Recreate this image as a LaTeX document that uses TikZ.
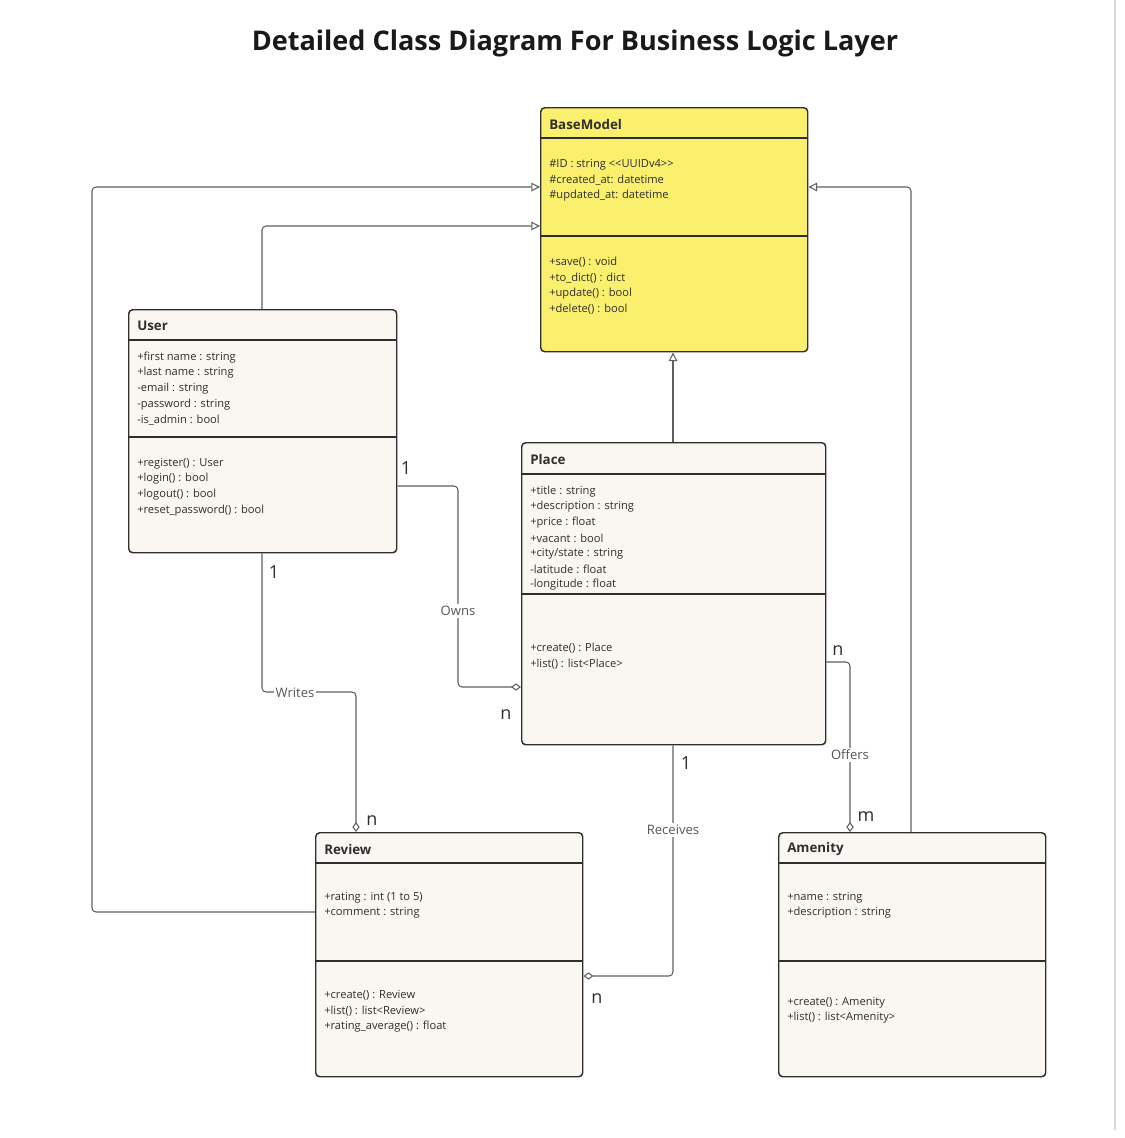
\documentclass[tikz,border=0pt]{standalone}
\usepackage{fontspec}
\setmainfont{Open Sans}[Ligatures=TeXOff]
\usetikzlibrary{arrows.meta,calc}
\definecolor{bmyellow}{HTML}{FAF06E}
\definecolor{boxfill}{HTML}{FAF7F2}
\definecolor{boxline}{HTML}{2E2E2E}
\definecolor{conn}{HTML}{606060}
\definecolor{txt}{HTML}{2E2E2E}
\newcommand\umlrows[4]{%
  \foreach \t [count=\i from 0] in {#4}
    \node[attr] (#1-#2\i) at ($(#1.north west)+(9,{#3+1.5+\i*15.55})$) {\t};%
}
\begin{document}
\begin{tikzpicture}[x=0.75pt,y=-0.75pt,
  classbox/.style={draw=boxline, line width=1.1pt, rounded corners=3pt, fill=boxfill, anchor=north west, inner sep=0pt},
  divider/.style={draw=boxline, line width=1.1pt},
  attr/.style={anchor=west, inner sep=0pt, font=\fontsize{8.35}{10}\selectfont, text=txt},
  head/.style={anchor=west, inner sep=0pt, font=\fontsize{10}{12}\selectfont\bfseries, text=txt},
  conn/.style={draw=conn, line width=0.8pt, rounded corners=3pt},
  inh/.style={conn, -{Triangle[open, fill=white, length=6.5pt, width=6.5pt]}},
  agg/.style={conn, -{Diamond[open, fill=white, length=7.5pt, width=5.5pt]}},
  lbl/.style={fill=white, inner sep=1.5pt, font=\fontsize{9.8}{12}\selectfont, text=conn!90!black},
  mult/.style={inner sep=0pt, font=\fontsize{13.5}{16}\selectfont, text=txt}]
\useasboundingbox (0,0) rectangle (1124,1138);
\draw[draw=black!15, line width=1.1pt] (1115,0) -- (1115,1130);

\node[font=\fontsize{20.3}{24}\selectfont\bfseries, text=black!90] (title) at (575,43) {Detailed Class Diagram For Business Logic Layer};

% BaseModel
\node[classbox, fill=bmyellow, minimum width=200.25pt, minimum height=183pt] (base) at (540,107) {};
\draw[divider] ($(base.north west)+(0,31)$) -- ($(base.north east)+(0,31)$);
\draw[divider] ($(base.north west)+(0,129)$) -- ($(base.north east)+(0,129)$);
\node[head] (base-h) at ($(base.north west)+(9,17)$) {BaseModel};
\umlrows{base}{a}{56}{{\#ID : string <\kern0pt<UUIDv4>\kern0pt>},{\#created\_at: datetime},{\#updated\_at: datetime}}
\umlrows{base}{m}{154}{{+save() : void},{+to\_dict() : dict},{+update() : bool},{+delete() : bool}}

% User
\node[classbox, minimum width=201pt, minimum height=182.25pt] (user) at (128,309) {};
\draw[divider] ($(user.north west)+(0,31)$) -- ($(user.north east)+(0,31)$);
\draw[divider] ($(user.north west)+(0,128)$) -- ($(user.north east)+(0,128)$);
\node[head] (user-h) at ($(user.north west)+(9,16.5)$) {User};
\umlrows{user}{a}{47}{{+first name : string},{+last name : string},{-email : string},{-password : string},{-is\_admin : bool}}
\umlrows{user}{m}{153}{{+register() : User},{+login() : bool},{+logout() : bool},{+reset\_password() : bool}}

% Place
\node[classbox, minimum width=228pt, minimum height=226.5pt] (place) at (521,442) {};
\draw[divider] ($(place.north west)+(0,32)$) -- ($(place.north east)+(0,32)$);
\draw[divider] ($(place.north west)+(0,152)$) -- ($(place.north east)+(0,152)$);
\node[head] (place-h) at ($(place.north west)+(9,17)$) {Place};
\umlrows{place}{a}{48}{{+title : string},{+description : string},{+price : float},{+vacant : bool},{+city/state : string},{-latitude : float},{-longitude : float}}
\umlrows{place}{m}{205}{{+create() : Place},{+list() : list<Place>}}

% Review
\node[classbox, minimum width=200.25pt, minimum height=183pt] (review) at (315,832) {};
\draw[divider] ($(review.north west)+(0,31)$) -- ($(review.north east)+(0,31)$);
\draw[divider] ($(review.north west)+(0,129)$) -- ($(review.north east)+(0,129)$);
\node[head] (review-h) at ($(review.north west)+(9,17.5)$) {Review};
\umlrows{review}{a}{64}{{+rating : int (1 to 5)},{+comment : string}}
\umlrows{review}{m}{162}{{+create() : Review},{+list() : list<Review>},{+rating\_average() : float}}

% Amenity
\node[classbox, minimum width=200.25pt, minimum height=183pt] (amenity) at (778,832) {};
\draw[divider] ($(amenity.north west)+(0,31)$) -- ($(amenity.north east)+(0,31)$);
\draw[divider] ($(amenity.north west)+(0,129)$) -- ($(amenity.north east)+(0,129)$);
\node[head] (amenity-h) at ($(amenity.north west)+(9,17.5)$) {Amenity};
\umlrows{amenity}{a}{64}{{+name : string},{+description : string}}
\umlrows{amenity}{m}{169}{{+create() : Amenity},{+list() : list<Amenity>}}

% Inheritance
\draw[inh] ($(review.north west)+(0,80)$) -| (92,187) -- ($(base.north west)+(0,80)$);
\draw[inh] ($(user.north west)+(134,0)$) |- ($(base.north west)+(0,119)$);
\draw[inh] ($(amenity.north west)+(133,0)$) |- ($(base.north east)+(0,80)$);
\draw[inh] ($(place.north west)+(152,0)$) -- ($(base.south west)+(133,0)$);

% Associations
\draw[agg] ($(user.north east)+(0,177)$) -- (458,486) -- (458,687) -- ($(place.north west)+(0,245)$);
\node[lbl] (owns) at (458,611) {Owns};
\draw[agg] ($(user.south west)+(134,0)$) -- (262,692) -- (356,692) -- ($(review.north west)+(41,0)$);
\node[lbl] (writes) at (295,693) {Writes};
\draw[agg] ($(place.south west)+(152,0)$) -- (673,976) -- ($(review.north east)+(0,144)$);
\node[lbl] (receives) at (673,830) {Receives};
\draw[agg] ($(place.north east)+(0,220)$) -- (850,662) -- ($(amenity.north west)+(72,0)$);
\node[lbl] (offers) at (850,755) {Offers};

% Multiplicities
\node[mult] (m1) at (406,468.5) {1};
\node[mult] (m2) at (506,714.5) {n};
\node[mult] (m3) at (274,572.5) {1};
\node[mult] (m4) at (372,820.5) {n};
\node[mult] (m5) at (686,763.5) {1};
\node[mult] (m6) at (597,998.5) {n};
\node[mult] (m7) at (838,650.5) {n};
\node[mult] (m8) at (866,816.5) {m};
\end{tikzpicture}
\end{document}
